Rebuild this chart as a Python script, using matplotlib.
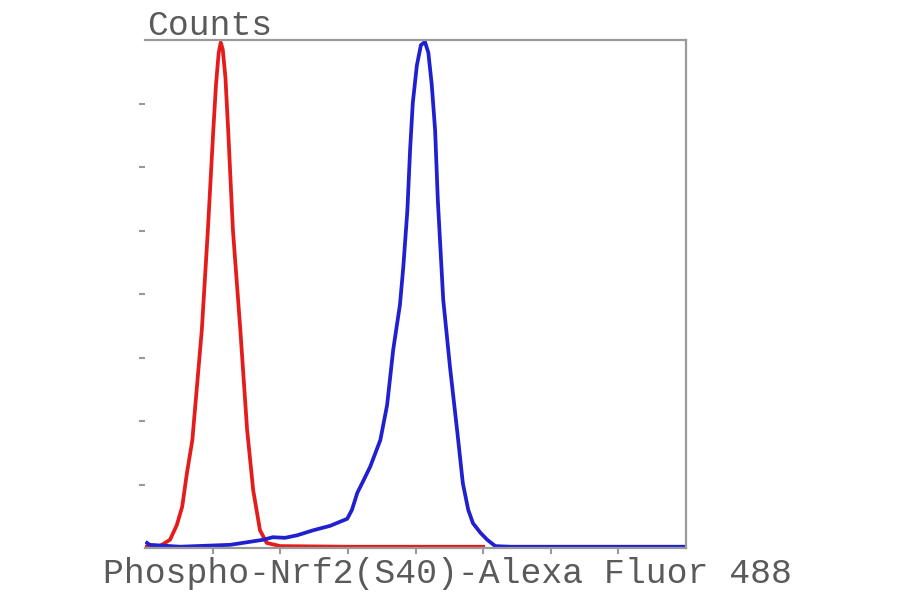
import matplotlib
matplotlib.use("Agg")
import matplotlib.pyplot as plt
import numpy as np

# histogram outlines (x, counts in axis units)
red_x = [0.0, 0.22, 0.37, 0.47, 0.55, 0.62, 0.70, 0.84, 0.93, 1.01, 1.05, 1.09, 1.12,
         1.15, 1.19, 1.23, 1.30, 1.41, 1.51, 1.60, 1.70, 1.80, 2.0, 3.0, 4.0, 5.0]
red_y = [0.02, 0.03, 0.13, 0.36, 0.65, 1.18, 1.70, 3.43, 5.01, 6.58, 7.30, 7.80, 7.96,
         7.85, 7.40, 6.58, 5.01, 3.43, 1.86, 0.91, 0.28, 0.08, 0.03, 0.02, 0.02, 0.02]

blue_x = [0.03, 0.07, 0.52, 1.26, 1.75, 1.89, 2.07, 2.25, 2.49, 2.74, 2.99, 3.06,
          3.14, 3.22, 3.33, 3.48, 3.58, 3.67, 3.77, 3.82, 3.88, 3.92, 3.96, 4.02,
          4.08, 4.14, 4.19, 4.24, 4.29, 4.33, 4.41, 4.51, 4.62, 4.70, 4.78, 4.85,
          4.96, 5.06, 5.18, 5.40, 8.0]
blue_y = [0.08, 0.05, 0.02, 0.05, 0.13, 0.17, 0.16, 0.20, 0.28, 0.35, 0.46, 0.60,
          0.87, 1.04, 1.28, 1.70, 2.25, 3.12, 3.83, 4.43, 5.32, 6.27, 7.01, 7.60,
          7.92, 7.97, 7.80, 7.30, 6.58, 5.48, 3.91, 2.85, 1.81, 1.02, 0.60, 0.39,
          0.24, 0.13, 0.03, 0.02, 0.02]

x_ticks = [1, 2, 3, 4, 5, 6, 7]
y_ticks = [1, 2, 3, 4, 5, 6, 7]

fig = plt.figure(figsize=(9, 5.94), dpi=100)
ax = fig.add_axes([145 / 900, 46 / 594, 541 / 900, 508 / 594])

ax.plot(red_x, red_y, color="#e41c1c", lw=2.7, solid_joinstyle="round")
ax.plot(blue_x, blue_y, color="#2020d0", lw=2.7, solid_joinstyle="round")

ax.set_xlim(0, 8)
ax.set_ylim(0, 8)
ax.set_xticks(x_ticks)
ax.set_yticks(y_ticks)
ax.set_xticklabels([])
ax.set_yticklabels([])
ax.tick_params(axis="both", direction="out", colors="#999999", width=1.5)
ax.tick_params(axis="y", length=4, pad=2)
ax.tick_params(axis="x", length=4)

ax.spines["left"].set_visible(False)
for s in ["top", "right", "bottom"]:
    ax.spines[s].set_color("#9a9a9a")
    ax.spines[s].set_linewidth(1.6)

fig.text(147 / 900, 1 - 35 / 594, "Counts", family="Liberation Mono",
         fontsize=25, color="#5a5a5a", ha="left", va="baseline")
fig.text(103 / 900, 1 - 583 / 594, "Phospho-Nrf2(S40)-Alexa Fluor 488",
         family="Liberation Mono", fontsize=25, color="#5a5a5a",
         ha="left", va="baseline")

fig.savefig("out.png", dpi=100)
